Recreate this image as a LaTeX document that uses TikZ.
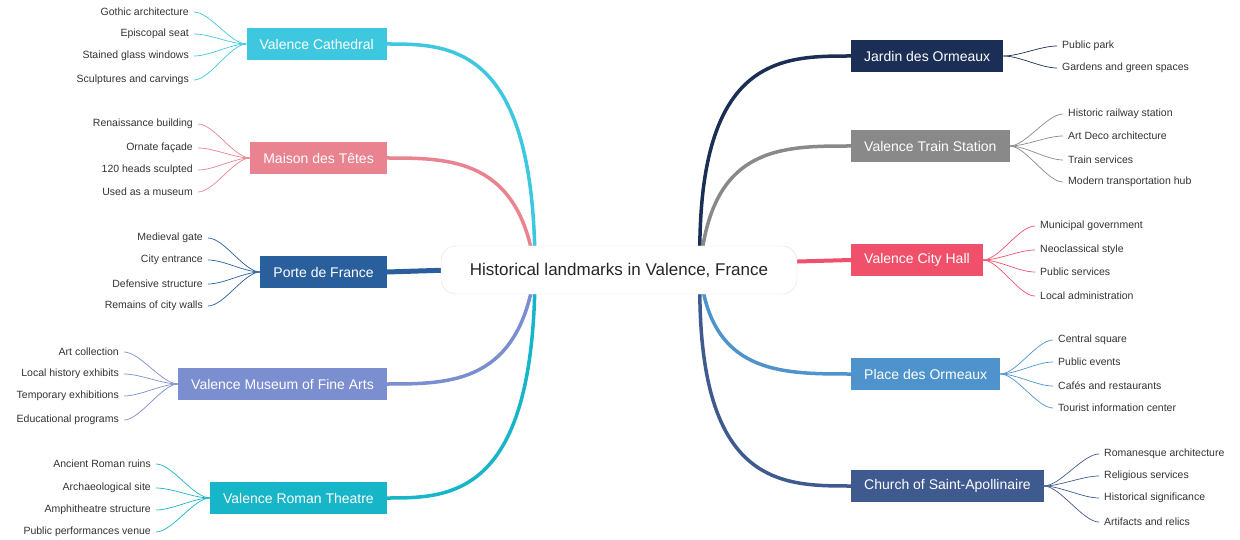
\documentclass[tikz,border=0pt]{standalone}
\usepackage{fontspec}
\setmainfont{Liberation Sans}
\definecolor{cCath}{HTML}{3EC8E0}
\definecolor{cMai}{HTML}{E8838F}
\definecolor{cPor}{HTML}{2A5F9E}
\definecolor{cMus}{HTML}{7B8ED0}
\definecolor{cThe}{HTML}{17B5C8}
\definecolor{cJar}{HTML}{1B2E55}
\definecolor{cTra}{HTML}{898989}
\definecolor{cHal}{HTML}{F0506A}
\definecolor{cPla}{HTML}{4F93CC}
\definecolor{cChu}{HTML}{3F5A8F}
\tikzset{
 topic/.style={fill=#1,text=white,minimum height=32pt,inner xsep=13pt,font=\fontsize{14}{16}\selectfont},
 leaf/.style={font=\fontsize{10.5}{12}\selectfont,text=black!80,inner xsep=5pt,inner ysep=2pt},
 branch/.style={draw=#1,line width=3.5pt},
 leafline/.style={draw=#1,line width=0.7pt},
 center/.style={draw=black!12,fill=white,rounded corners=15pt,minimum width=356pt,minimum height=48pt,font=\fontsize{17}{20}\selectfont,text=black!85}
}
\begin{document}
\begin{tikzpicture}[x=1pt,y=-1pt]
\useasboundingbox (0,0) rectangle (1240,540);
% topics
\node[topic=cCath,anchor=east] (cath) at (387,44) {Valence Cathedral};
\node[topic=cMai,anchor=east] (mai) at (387,158) {Maison des Têtes};
\node[topic=cPor,anchor=east] (por) at (387,272) {Porte de France};
\node[topic=cMus,anchor=east] (mus) at (387,384) {Valence Museum of Fine Arts};
\node[topic=cThe,anchor=east] (the) at (387,498) {Valence Roman Theatre};
\node[topic=cJar,anchor=west] (jar) at (851,56) {Jardin des Ormeaux};
\node[topic=cTra,anchor=west] (tra) at (851,146) {Valence Train Station};
\node[topic=cHal,anchor=west] (hal) at (851,260) {Valence City Hall};
\node[topic=cPla,anchor=west] (pla) at (851,374) {Place des Ormeaux};
\node[topic=cChu,anchor=west] (chu) at (851,486) {Church of Saint-Apollinaire};
\coordinate (L) at (535,270);
\coordinate (R) at (700,270);
% branches
\draw[branch=cCath] (L) .. controls (535,44) and (450,44) .. (cath.east);
\draw[branch=cMai] (L) .. controls (520,158) and (450,158) .. (mai.east);
\draw[branch=cPor,line width=5pt] (450,270) -- (por.east);
\draw[branch=cMus] (L) .. controls (520,384) and (450,384) .. (mus.east);
\draw[branch=cThe] (L) .. controls (535,498) and (450,498) .. (the.east);
\draw[branch=cJar] (R) .. controls (695,56) and (780,56) .. (jar.west);
\draw[branch=cTra] (R) .. controls (710,146) and (780,146) .. (tra.west);
\draw[branch=cHal,line width=4pt] (780,262) -- (hal.west);
\draw[branch=cPla] (R) .. controls (710,374) and (780,374) .. (pla.west);
\draw[branch=cChu] (R) .. controls (695,486) and (780,486) .. (chu.west);
\node[center] (c) at (619,270) {Historical landmarks in Valence, France};
% left leaves
\foreach \t/\y [count=\i] in {Gothic architecture/12,Episcopal seat/34,Stained glass windows/56,Sculptures and carvings/80}{
 \node[leaf,anchor=east] (cath\i) at (194,\y) {\t};
 \draw[leafline=cCath] (cath.west) .. controls +(-16,0) and +(16,0) .. (cath\i.east);}
\foreach \t/\y [count=\i] in {Renaissance building/124,Ornate façade/148,120 heads sculpted/170,Used as a museum/192}{
 \node[leaf,anchor=east] (mai\i) at (198,\y) {\t};
 \draw[leafline=cMai] (mai.west) .. controls +(-16,0) and +(16,0) .. (mai\i.east);}
\foreach \t/\y [count=\i] in {Medieval gate/238,City entrance/260,Defensive structure/284,Remains of city walls/306}{
 \node[leaf,anchor=east] (por\i) at (208,\y) {\t};
 \draw[leafline=cPor] (por.west) .. controls +(-16,0) and +(16,0) .. (por\i.east);}
\foreach \t/\y [count=\i] in {Art collection/352,Local history exhibits/374,Temporary exhibitions/396,Educational programs/420}{
 \node[leaf,anchor=east] (mus\i) at (124,\y) {\t};
 \draw[leafline=cMus] (mus.west) .. controls +(-16,0) and +(16,0) .. (mus\i.east);}
\foreach \t/\y [count=\i] in {Ancient Roman ruins/464,Archaeological site/488,Amphitheatre structure/510,Public performances venue/532}{
 \node[leaf,anchor=east] (the\i) at (156,\y) {\t};
 \draw[leafline=cThe] (the.west) .. controls +(-16,0) and +(16,0) .. (the\i.east);}
% right leaves
\foreach \t/\y [count=\i] in {Public park/46,Gardens and green spaces/68}{
 \node[leaf,anchor=west] (jar\i) at (1057,\y) {\t};
 \draw[leafline=cJar] (jar.east) .. controls +(16,0) and +(-16,0) .. (jar\i.west);}
\foreach \t/\y [count=\i] in {Historic railway station/114,Art Deco architecture/136,Train services/160,Modern transportation hub/182}{
 \node[leaf,anchor=west] (tra\i) at (1063,\y) {\t};
 \draw[leafline=cTra] (tra.east) .. controls +(16,0) and +(-16,0) .. (tra\i.west);}
\foreach \t/\y [count=\i] in {Municipal government/226,Neoclassical style/250,Public services/272,Local administration/296}{
 \node[leaf,anchor=west] (hal\i) at (1035,\y) {\t};
 \draw[leafline=cHal] (hal.east) .. controls +(16,0) and +(-16,0) .. (hal\i.west);}
\foreach \t/\y [count=\i] in {Central square/340,Public events/362,Cafés and restaurants/386,Tourist information center/408}{
 \node[leaf,anchor=west] (pla\i) at (1053,\y) {\t};
 \draw[leafline=cPla] (pla.east) .. controls +(16,0) and +(-16,0) .. (pla\i.west);}
\foreach \t/\y [count=\i] in {Romanesque architecture/454,Religious services/476,Historical significance/498,Artifacts and relics/522}{
 \node[leaf,anchor=west] (chu\i) at (1099,\y) {\t};
 \draw[leafline=cChu] (chu.east) .. controls +(16,0) and +(-16,0) .. (chu\i.west);}
\end{tikzpicture}
\end{document}
